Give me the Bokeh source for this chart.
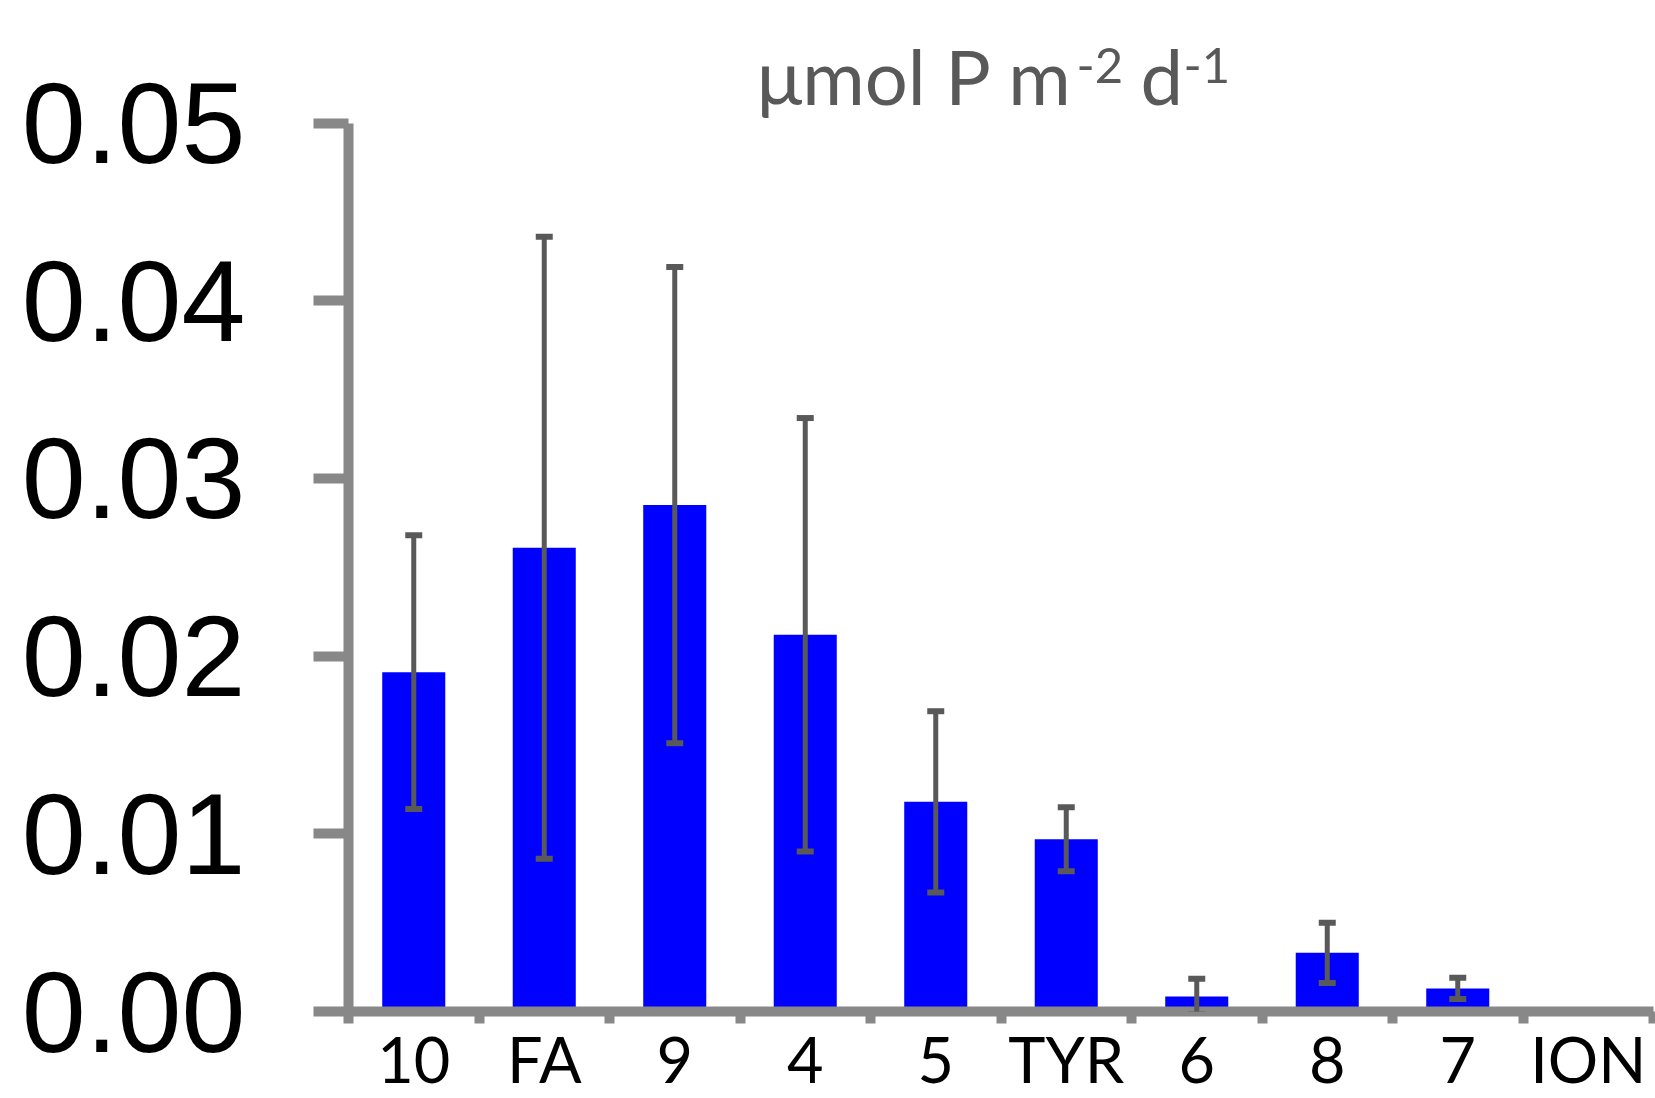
from bokeh.plotting import figure
from bokeh.models import (ColumnDataSource, Range1d, FixedTicker, Whisker, TeeHead,
                          PrintfTickFormatter, Label)
from bokeh.embed import file_html
from bokeh.resources import INLINE

categories = ["10", "FA", "9", "4", "5", "TYR", "6", "8", "7", "ION"]
values = [0.0191, 0.0261, 0.0285, 0.0212, 0.0118, 0.0097, 0.00085, 0.0033, 0.0013, 0.0]
errors = [0.0077, 0.0175, 0.0134, 0.0122, 0.0051, 0.0018, 0.0010, 0.0017, 0.0006, 0.0]
y_ticks = [0.0, 0.01, 0.02, 0.03, 0.04, 0.05]
y_axis_max = 0.05
title_parts = ["\u03bcmol P m", "-2", "d", "-1"]

xs = [i + 0.5 for i in range(len(categories))]
src = ColumnDataSource(dict(x=xs, top=values))

wx, wu, wl = [], [], []
for x, v, e in zip(xs, values, errors):
    if e > 0:
        wx.append(x)
        wu.append(v + e)
        wl.append(v - e)
wsrc = ColumnDataSource(dict(x=wx, upper=wu, lower=wl))

# frame runs to the top of the canvas; space above 0.05 holds the title
p = figure(width=1655, height=1098, output_backend="svg", toolbar_location=None,
           x_range=Range1d(0, len(categories)), y_range=Range1d(0, 0.0569),
           min_border_left=348, min_border_right=2, min_border_top=0,
           min_border_bottom=80)

p.vbar(x="x", top="top", width=0.483, bottom=0, source=src,
       fill_color="#0000FF", line_color=None)

ecol = "#595959"
w = Whisker(base="x", upper="upper", lower="lower", source=wsrc,
            line_color=ecol, line_width=5, level="annotation",
            upper_head=TeeHead(size=17, line_color=ecol, line_width=6),
            lower_head=TeeHead(size=17, line_color=ecol, line_width=6))
p.add_layout(w)

# title built from pieces (superscripts)
tcol = "#595959"
common = dict(text_font="Lato", text_color=tcol, text_baseline="alphabetic",
              y=y_axis_max, y_units="data", x_units="data", level="overlay")
p.add_layout(Label(x=5.55, y_offset=48, text=title_parts[0], text_align="right",
                   text_font_size="76px", **common))
p.add_layout(Label(x=5.579, y_offset=58, text=title_parts[1], text_align="left",
                   text_font_size="49px", **common))
p.add_layout(Label(x=6.069, y_offset=48, text=title_parts[2], text_align="left",
                   text_font_size="76px", **common))
p.add_layout(Label(x=6.398, y_offset=58, text=title_parts[3], text_align="left",
                   text_font_size="49px", **common))

p.outline_line_color = None
p.xgrid.grid_line_color = None
p.ygrid.grid_line_color = None
p.background_fill_color = "white"

# x axis
xa = p.xaxis[0]
xa.ticker = FixedTicker(ticks=xs, minor_ticks=list(range(len(categories) + 1)))
xa.major_label_overrides = {x: c for x, c in zip(xs, categories)}
xa.axis_line_color = "#888888"
xa.axis_line_width = 10
xa.major_tick_out = 0
xa.major_tick_in = 0
xa.minor_tick_out = 12
xa.minor_tick_in = 0
xa.minor_tick_line_color = "#888888"
xa.minor_tick_line_width = 10
xa.major_label_text_font = "Lato"
xa.major_label_text_font_size = "63px"
xa.major_label_text_color = "black"
xa.major_label_standoff = -3

# y axis
ya = p.yaxis[0]
ya.ticker = FixedTicker(ticks=y_ticks)
ya.bounds = (0, y_axis_max)
ya.formatter = PrintfTickFormatter(format="%.2f")
ya.axis_line_color = "#888888"
ya.axis_line_width = 10
ya.major_tick_out = 35
ya.major_tick_in = 0
ya.major_tick_line_color = "#888888"
ya.major_tick_line_width = 10
ya.minor_tick_line_color = None
ya.major_label_text_font = "Liberation Sans"
ya.major_label_text_font_size = "115px"
ya.major_label_text_color = "black"
ya.major_label_standoff = 68

open("out.html", "w").write(file_html(p, INLINE))
